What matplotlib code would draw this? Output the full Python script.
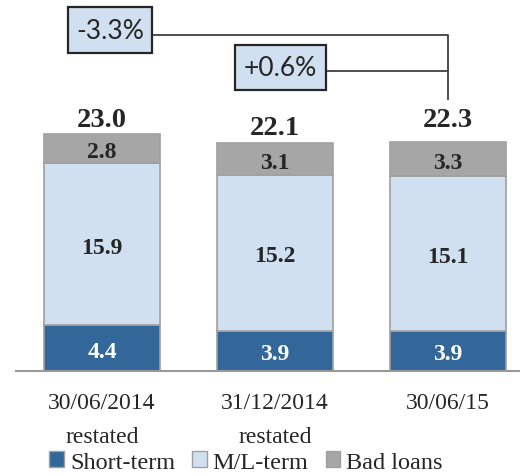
import matplotlib
matplotlib.use("Agg")
import matplotlib.pyplot as plt
from matplotlib.patches import Patch, Rectangle

categories = ["30/06/2014", "31/12/2014", "30/06/15"]
category_notes = ["restated", "restated", ""]
short_term = [4.4, 3.9, 3.9]
ml_term = [15.9, 15.2, 15.1]
bad_loans = [2.8, 3.1, 3.3]
totals = [23.0, 22.1, 22.3]
changes = ["-3.3%", "+0.6%"]

serif = ["Liberation Serif", "DejaVu Serif"]
sans = ["Lato", "DejaVu Sans"]

c_short = "#336699"
c_ml = "#d0e0f0"
c_bad = "#a6a6a6"
edge = "#a0a0a0"
dark = "#262626"

W, H = 520, 477
fig = plt.figure(figsize=(W / 100, H / 100), dpi=100)
ax = fig.add_axes([16 / W, 1 - 371.5 / H, 504 / W, 371.5 / H])
x = list(range(len(categories)))
w = 0.67
ax.bar(x, short_term, w, color=c_short, edgecolor=edge, linewidth=1.2)
ax.bar(x, ml_term, w, bottom=short_term, color=c_ml, edgecolor=edge, linewidth=1.2)
b2 = [s + m for s, m in zip(short_term, ml_term)]
ax.bar(x, bad_loans, w, bottom=b2, color=c_bad, edgecolor=edge, linewidth=1.2)

ax.set_xlim(-0.497, 2.416)
ax.set_ylim(0, 36.28)
for s in ["top", "right", "left"]:
    ax.spines[s].set_visible(False)
ax.spines["bottom"].set_color("#999999")
ax.spines["bottom"].set_linewidth(1.5)
ax.set_yticks([])
ax.set_xticks([])

lab_fs = 17
for i in x:
    ax.text(i, short_term[i] / 2 - 0.85, f"{short_term[i]:.1f}", ha="center", va="baseline",
            color="white", fontsize=lab_fs, fontweight="bold", family=serif)
    ax.text(i, short_term[i] + ml_term[i] / 2 - 0.85, f"{ml_term[i]:.1f}", ha="center",
            va="baseline", color=dark, fontsize=lab_fs, fontweight="bold", family=serif)
    ax.text(i, b2[i] + bad_loans[i] / 2 - 0.85, f"{bad_loans[i]:.1f}", ha="center",
            va="baseline", color=dark, fontsize=lab_fs, fontweight="bold", family=serif)

# category labels below the axis
for i in x:
    ax.annotate(categories[i], xy=(i, 0), xycoords="data", xytext=(0, -37.5),
                textcoords="offset pixels", ha="center", va="baseline",
                fontsize=17, family=serif, color=dark, annotation_clip=False)
    if category_notes[i]:
        ax.annotate(category_notes[i], xy=(i, 0), xycoords="data", xytext=(0, -71.5),
                    textcoords="offset pixels", ha="center", va="baseline",
                    fontsize=17, family=serif, color=dark, annotation_clip=False)

# totals
tot_y = [23.88, 23.09, 23.88]
for i in x:
    ax.text(i, tot_y[i], f"{totals[i]:.1f}", ha="center", va="baseline",
            fontsize=20.5, fontweight="bold", family=serif, color=dark)

# bracket lines and change boxes
ax.plot([0.289, 2.0, 2.0], [32.76, 32.76, 26.5], color="#404040", lw=1.3,
        clip_on=False, zorder=1)
ax.plot([1.295, 2.0], [29.25, 29.25], color="#404040", lw=1.3, clip_on=False, zorder=1)
ax.add_patch(Rectangle((-0.197, 31.0), 0.486, 4.5, fc=c_ml, ec=dark, lw=1.6,
                       clip_on=False, zorder=3))
ax.add_patch(Rectangle((0.769, 27.39), 0.526, 4.4, fc=c_ml, ec=dark, lw=1.6,
                       clip_on=False, zorder=3))
ax.text(0.046, 33.25, changes[0], ha="center", va="center", fontsize=19,
        family=sans, color=dark, zorder=4)
ax.text(1.032, 29.6, changes[1], ha="center", va="center", fontsize=19,
        family=sans, color=dark, zorder=4)

handles = [Patch(fc=c_short, ec=edge, label="Short-term"),
           Patch(fc=c_ml, ec=edge, label="M/L-term"),
           Patch(fc=c_bad, ec=edge, label="Bad loans")]
fig.legend(handles=handles, loc="center", bbox_to_anchor=(246 / W, 1 - 463 / H),
           ncol=3, frameon=False, prop={"family": serif, "size": 17.5},
           handlelength=0.6, handleheight=0.6, handletextpad=0.25, columnspacing=0.7,
           labelcolor=dark, borderpad=0)

fig.savefig("out.png", dpi=100)
